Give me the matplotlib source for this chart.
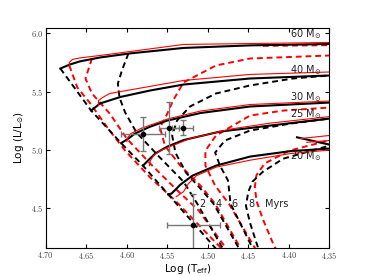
import matplotlib
matplotlib.use('Agg')
import matplotlib.pyplot as plt

plt.rcParams['mathtext.fontset'] = 'cm'

# ---- evolutionary tracks (log Teff, log L) ----
masses = ['60', '40', '30', '25', '20']
blk_T = [
    [4.682, 4.670, 4.658, 4.633, 4.596, 4.530, 4.448, 4.350],
    [4.644, 4.633, 4.608, 4.571, 4.530, 4.448, 4.350],
    [4.607, 4.598, 4.590, 4.571, 4.550, 4.509, 4.448, 4.350],
    [4.580, 4.574, 4.565, 4.550, 4.530, 4.485, 4.423, 4.350],
    [4.549, 4.545, 4.540, 4.534, 4.519, 4.490, 4.448, 4.398, 4.350, 4.330, 4.350, 4.390],
]
blk_L = [
    [5.698, 5.733, 5.759, 5.793, 5.828, 5.875, 5.897, 5.909],
    [5.336, 5.397, 5.453, 5.509, 5.560, 5.612, 5.638],
    [5.056, 5.095, 5.138, 5.198, 5.250, 5.315, 5.371, 5.405],
    [4.862, 4.905, 4.966, 5.026, 5.082, 5.155, 5.207, 5.267],
    [4.616, 4.621, 4.655, 4.698, 4.776, 4.862, 4.940, 4.987, 5.009, 5.020, 5.043, 5.106],
]
red_T = [
    [4.671, 4.671, 4.667, 4.658, 4.633, 4.530, 4.350],
    [4.635, 4.635, 4.630, 4.621, 4.530, 4.448, 4.350],
    [4.600, 4.599, 4.595, 4.583, 4.550, 4.509, 4.448, 4.350],
    [4.572, 4.571, 4.567, 4.559, 4.522, 4.472, 4.423, 4.350, 4.330, 4.351, 4.386],
    [4.539, 4.530, 4.524, 4.514, 4.490, 4.448, 4.398, 4.350, 4.330, 4.351, 4.378],
]
red_L = [
    [5.720, 5.750, 5.776, 5.789, 5.810, 5.905, 5.922],
    [5.379, 5.422, 5.448, 5.483, 5.595, 5.647, 5.668],
    [5.069, 5.103, 5.138, 5.181, 5.263, 5.332, 5.388, 5.418],
    [4.862, 4.905, 4.948, 4.991, 5.095, 5.177, 5.228, 5.284, 5.200, 5.121, 5.095],
    [4.595, 4.638, 4.707, 4.776, 4.849, 4.909, 4.966, 4.996, 5.030, 5.078, 5.063],
]

# ---- isochrones ----
iso_blk_T = [
    [4.682, 4.644, 4.607, 4.580, 4.549, 4.491, 4.478],
    [4.598, 4.606, 4.611, 4.609, 4.602, 4.588, 4.559, 4.530, 4.513, 4.482, 4.475],
    [4.330, 4.350, 4.395, 4.448, 4.490, 4.522, 4.538, 4.544, 4.540, 4.527, 4.509, 4.493, 4.462, 4.455],
    [4.330, 4.350, 4.398, 4.448, 4.479, 4.491, 4.485, 4.475, 4.472, 4.445, 4.438],
    [4.330, 4.350, 4.407, 4.432, 4.445, 4.450, 4.453, 4.448, 4.438, 4.433],
]
iso_blk_L = [
    [5.698, 5.336, 5.056, 4.862, 4.616, 4.155, 4.060],
    [5.828, 5.681, 5.569, 5.448, 5.319, 5.147, 4.931, 4.724, 4.534, 4.155, 4.060],
    [5.647, 5.638, 5.612, 5.552, 5.483, 5.371, 5.250, 5.121, 4.974, 4.802, 4.664, 4.534, 4.155, 4.060],
    [5.276, 5.267, 5.224, 5.164, 5.078, 4.974, 4.862, 4.733, 4.534, 4.155, 4.060],
    [5.043, 5.034, 4.922, 4.810, 4.724, 4.638, 4.517, 4.371, 4.155, 4.060],
]
iso_red_T = [
    [4.671, 4.661, 4.645, 4.624, 4.602, 4.571, 4.540, 4.484, 4.472],
    [4.643, 4.651, 4.643, 4.621, 4.600, 4.571, 4.540, 4.511, 4.478, 4.470],
    [4.432, 4.390, 4.330, 4.330, 4.350, 4.448, 4.490, 4.530, 4.543, 4.550, 4.559, 4.553, 4.534,
     4.509, 4.491, 4.460, 4.453],
    [4.330, 4.350, 4.407, 4.448, 4.490, 4.503, 4.503, 4.491, 4.474, 4.442, 4.434],
    [4.330, 4.350, 4.400, 4.430, 4.440, 4.442, 4.440, 4.432, 4.420, 4.410],
]
iso_red_L = [
    [5.724, 5.534, 5.397, 5.190, 4.991, 4.759, 4.560, 4.155, 4.060],
    [5.784, 5.612, 5.483, 5.310, 5.095, 4.879, 4.664, 4.474, 4.155, 4.060],
    [5.893, 5.896, 5.900, 5.819, 5.810, 5.784, 5.724, 5.578, 5.422, 5.310, 5.190, 5.034, 4.862,
     4.690, 4.534, 4.155, 4.060],
    [5.371, 5.362, 5.336, 5.293, 5.121, 4.991, 4.862, 4.690, 4.534, 4.155, 4.060],
    [5.090, 5.080, 4.990, 4.880, 4.780, 4.680, 4.560, 4.400, 4.200, 4.060],
]
iso_ages = ['2', '4', '6', '8']

# ---- observed stars ----
star_T = [4.580, 4.548, 4.531, 4.518]
star_L = [5.138, 5.187, 5.187, 4.353]
star_Terr = [0.027, 0.012, 0.013, 0.033]
star_Lerr = [0.146, 0.222, 0.065, 0.265]

fig = plt.figure(figsize=(3.66, 2.76), dpi=100)
ax = fig.add_axes([0.125, 0.1, 0.775, 0.8])

for T, L in zip(iso_red_T, iso_red_L):
    ax.plot(T, L, color='red', lw=1.4, ls=(0, (3, 2)))
for T, L in zip(iso_blk_T, iso_blk_L):
    ax.plot(T, L, color='black', lw=1.4, ls=(0, (3, 2)))
for T, L in zip(blk_T, blk_L):
    ax.plot(T, L, color='black', lw=1.5)
for T, L in zip(red_T, red_L):
    ax.plot(T, L, color='red', lw=0.8)

ax.errorbar(star_T, star_L, xerr=star_Terr, yerr=star_Lerr, fmt='o', ms=3,
            color='black', ecolor='#777777', elinewidth=1, capsize=2)

lab_L = [5.996, 5.681, 5.453, 5.306, 4.948]
for m, y in zip(masses, lab_L):
    ax.text(4.399, y, m + r' M$_{\odot}$', fontsize=7, va='center', ha='left',
            color='#222222', math_fontfamily='dejavusans')

age_T = [4.507, 4.487, 4.467, 4.446]
for a, x in zip(iso_ages, age_T):
    ax.text(x, 4.535, a, fontsize=7, ha='center', va='center', color='#222222')
ax.text(4.415, 4.535, 'Myrs', fontsize=7, ha='center', va='center', color='#222222')

ax.set_xlim(4.70, 4.35)
ax.set_ylim(4.15, 6.05)
xt = [4.70, 4.65, 4.60, 4.55, 4.50, 4.45, 4.40, 4.35]
yt = [4.5, 5.0, 5.5, 6.0]
ax.set_xticks(xt)
ax.set_xticklabels(['$%.2f$' % v for v in xt])
ax.set_yticks(yt)
ax.set_yticklabels(['$%.1f$' % v for v in yt])
ax.tick_params(direction='in', top=True, right=True, labelsize=6, labelcolor='#444444',
               length=3, pad=1.5)
ax.set_xlabel(r'Log (T$_{\rm eff}$)', fontsize=7.5, math_fontfamily='dejavusans', va='top')
ax.set_ylabel(r'Log (L/L$_{\odot}$)', fontsize=7.5, math_fontfamily='dejavusans', va='bottom')
ax.xaxis.set_label_coords(0.5, -0.062)
ax.yaxis.set_label_coords(-0.068, 0.5)

fig.savefig('out.png', dpi=100)
